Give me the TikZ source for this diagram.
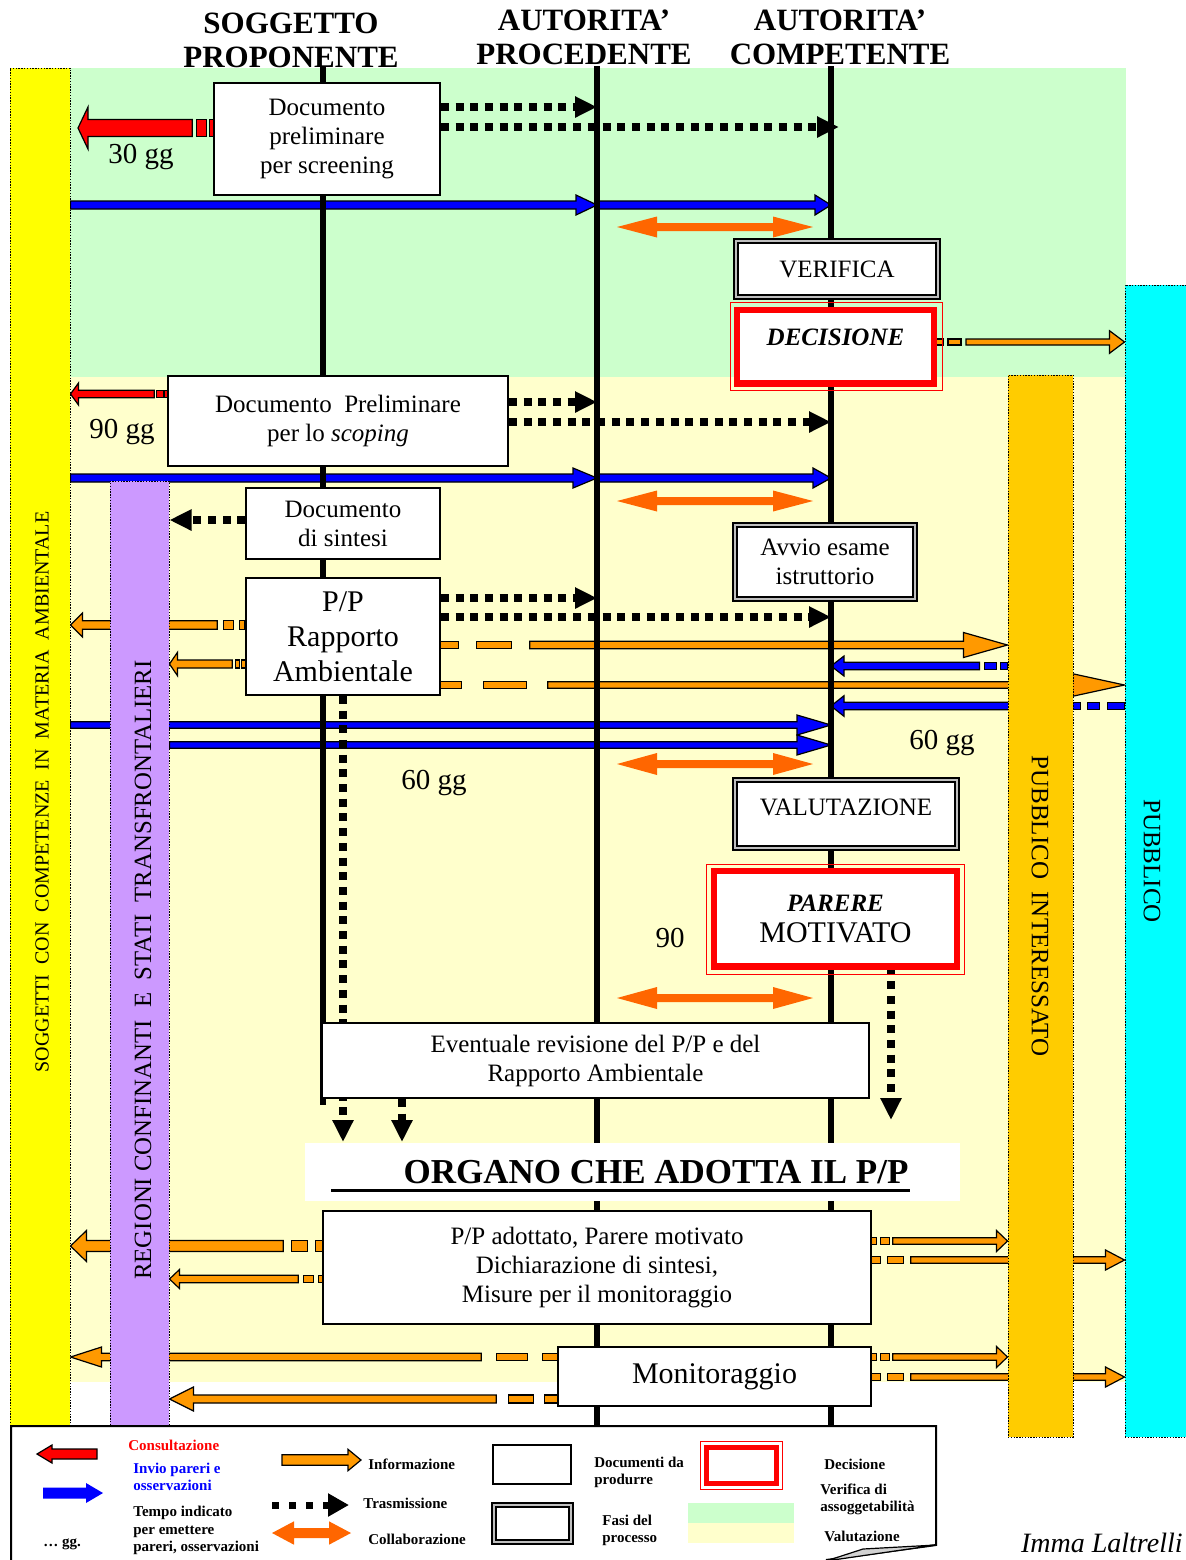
\documentclass[tikz,border=0pt]{standalone}
\usepackage{fontspec}
\setmainfont{Liberation Serif}
\usetikzlibrary{arrows.meta,calc}
\definecolor{bggreen}{HTML}{CCFFCC}
\definecolor{bgyellow}{HTML}{FFFFCC}
\definecolor{bandyellow}{HTML}{FFFF00}
\definecolor{bandpurple}{HTML}{CC99FF}
\definecolor{bandorange}{HTML}{FFCC00}
\definecolor{bandcyan}{HTML}{00FFFF}
\definecolor{infoorange}{HTML}{FF9900}
\definecolor{collab}{HTML}{FF6600}
\pgfdeclarelayer{back}\pgfdeclarelayer{mid}\pgfdeclarelayer{front}
\pgfsetlayers{back,mid,main,front}
% block arrow: opts; tail; tip; half shaft; half head; head length; shaft start offset (px)
\newcommand\barrow[7][]{\path[#1] let \p1=(#2),\p2=(#3),\n1={ifthenelse(\x2>\x1,0.5,-0.5)} in
 ({\x1+(\n1)*#7*1pt},{\y1+#4*0.5pt}) -- ({\x2-(\n1)*#6*1pt},{\y1+#4*0.5pt}) -- ({\x2-(\n1)*#6*1pt},{\y1+#5*0.5pt}) -- (\x2,\y1) -- ({\x2-(\n1)*#6*1pt},{\y1-#5*0.5pt}) -- ({\x2-(\n1)*#6*1pt},{\y1-#4*0.5pt}) -- ({\x1+(\n1)*#7*1pt},{\y1-#4*0.5pt}) -- cycle;}
% dash pieces near the tail: opts; tail; tip; half shaft; list a/b
\newcommand\segs[5][]{\foreach \ua/\ub in {#5}{\path[#1] let \p1=(#2),\p2=(#3),\n1={ifthenelse(\x2>\x1,0.5,-0.5)} in
 ({\x1+(\n1)*\ua*1pt},{\y1+#4*0.5pt}) rectangle ({\x1+(\n1)*\ub*1pt},{\y1-#4*0.5pt});}}
% double block arrow: opts; end1; end2; half shaft; half head; head length
\newcommand\dbarrow[6][]{\path[#1] let \p1=(#2),\p2=(#3),\n1={ifthenelse(\x2>\x1,0.5,-0.5)} in
 (\x1,\y1) -- ({\x1+(\n1)*#6*1pt},{\y1+#5*0.5pt}) -- ({\x1+(\n1)*#6*1pt},{\y1+#4*0.5pt}) -- ({\x2-(\n1)*#6*1pt},{\y1+#4*0.5pt}) -- ({\x2-(\n1)*#6*1pt},{\y1+#5*0.5pt}) -- (\x2,\y1) -- ({\x2-(\n1)*#6*1pt},{\y1-#5*0.5pt}) -- ({\x2-(\n1)*#6*1pt},{\y1-#4*0.5pt}) -- ({\x1+(\n1)*#6*1pt},{\y1-#4*0.5pt}) -- ({\x1+(\n1)*#6*1pt},{\y1-#5*0.5pt}) -- cycle;}
\tikzset{
 band/.style={draw=black, line width=0.5pt, dash pattern=on 0.7pt off 0.7pt, inner sep=0pt},
 docbox/.style={draw=black, line width=0.8pt, fill=white, align=center, inner sep=0pt, font=\fontsize{12.5}{14.5}\selectfont},
 phasebox/.style={draw=black, line width=1.1pt, double=gray!50, double distance=0.8pt, fill=white, align=center, inner sep=0pt, font=\fontsize{12.5}{14.5}\selectfont},
 decbox/.style={draw=red, line width=3.3pt, fill=white, align=center, inner sep=0pt, outer sep=0pt, font=\fontsize{12.5}{14.5}\selectfont},
 decframe/.style={draw=red, line width=0.5pt},
 hdr/.style={align=center, inner sep=0pt, font=\fontsize{15.5}{17}\selectfont\bfseries},
 days/.style={inner sep=0pt, font=\fontsize{14.5}{16}\selectfont},
 legtext/.style={anchor=west, align=left, inner sep=0pt, font=\fontsize{7.5}{8.6}\selectfont\bfseries},
 redarr/.style={fill=red, draw=black, line width=0.6pt},
 bluearr/.style={fill=blue, draw=black, line width=0.6pt},
 infoarr/.style={fill=infoorange, draw=black, line width=0.6pt},
 collabarr/.style={fill=collab},
 trans/.style={line width=4pt, dash pattern=on 4pt off 3.35pt, -{Triangle[length=11pt,width=10pt]}},
 lifeline/.style={line width=3pt},
}
\begin{document}
\begin{tikzpicture}[x=0.5pt,y=-0.5pt]
\useasboundingbox (0,0) rectangle (1186,1560);
% ---------- backgrounds
\begin{pgfonlayer}{back}
 \fill[bggreen] (70,68) rectangle (1126,377);
 \fill[bgyellow] (70,377) rectangle (1126,1382);
\end{pgfonlayer}
% ---------- headers
\node[hdr] (h1) at (291,40.5) {SOGGETTO\\PROPONENTE};
\node[hdr] (h2) at (584,37.5) {AUTORITA'\\PROCEDENTE};
\node[hdr] (h3) at (840,37.5) {AUTORITA'\\COMPETENTE};
% ---------- boxes
\node[docbox, minimum width=113pt, minimum height=56pt] (b1) at (327,139) {Documento\\preliminare\\per screening};
\node[phasebox, minimum width=101pt, minimum height=28pt] (verif) at (837,269) {VERIFICA};
\node[decbox, minimum width=98.5pt, minimum height=36.75pt, text height=8.3pt, text depth=9.8pt] (decis) at (835.5,346.75) {\textbf{\textit{DECISIONE}}};
\draw[decframe] ([shift={(-7,-8)}]decis.north west) rectangle ([shift={(8,6.5)}]decis.south east);
\node[docbox, minimum width=170pt, minimum height=45pt] (b4) at (338,421) {Documento\ \ Preliminare\\per lo \textit{scoping}};
\node[docbox, minimum width=97pt, minimum height=35.5pt] (b5) at (343,523.5) {Documento\\di sintesi};
\node[phasebox, minimum width=90pt, minimum height=37pt] (avvio) at (825,562) {Avvio esame\\istruttorio};
\node[docbox, minimum width=97pt, minimum height=58.5pt, font=\fontsize{15}{17.5}\selectfont] (pp) at (343,636.5) {P/P\\Rapporto\\Ambientale};
\node[phasebox, minimum width=111pt, minimum height=34pt, text height=8.3pt, text depth=7pt] (valut) at (846,814) {VALUTAZIONE};
\node[decbox, minimum width=121.5pt, minimum height=47.75pt] (parere) at (835.5,918.75) {\textbf{\textit{PARERE}}\\[1pt]{\fontsize{15}{17}\selectfont MOTIVATO}};
\draw[decframe] ([shift={(-8,-7)}]parere.north west) rectangle ([shift={(7,7.5)}]parere.south east);
\node[docbox, minimum width=273.5pt, minimum height=37.5pt] (evt) at (595.5,1060.5) {Eventuale revisione del P/P e del\\Rapporto Ambientale};
\node[fill=white, minimum width=327.5pt, minimum height=29pt, inner sep=0pt] (organo) at (632.5,1172) {};
\node[inner sep=0pt, font=\fontsize{17.5}{19}\selectfont\bfseries] (organotxt) at (656,1172) {ORGANO CHE ADOTTA IL P/P};
\draw[line width=1.5pt] (331,1190) -- (910,1190);
\node[docbox, minimum width=274pt, minimum height=56.5pt] (adopt) at (597,1267.5) {P/P adottato, Parere motivato\\Dichiarazione di sintesi,\\Misure per il monitoraggio};
\node[docbox, minimum width=156.5pt, minimum height=29.5pt, font=\fontsize{15}{17}\selectfont] (monit) at (714.5,1376.5) {Monitoraggio};
% ---------- day labels
\node[days] (d30) at (141,157) {30 gg};
\node[days] (d90) at (122,432) {90 gg};
\node[days] (d60a) at (434,783) {60 gg};
\node[days] (d60b) at (942,743) {60 gg};
\node[days] (d90b) at (670,938) {90};
% ---------- bands
\begin{pgfonlayer}{front}
 \node[band, fill=bandyellow, minimum width=30pt, minimum height=678.5pt] (yband) at (40,746.5) {};
 \node[band, fill=bandpurple, minimum width=29.5pt, minimum height=472pt] (pband) at (139.5,953) {};
 \node[band, fill=bandorange, minimum width=32.5pt, minimum height=531pt] (oband) at (1040.5,906) {};
 \node[band, fill=bandcyan, minimum width=30.5pt, minimum height=576pt] (cband) at (1155.5,861) {};
 \node[rotate=90, inner sep=0pt, font=\fontsize{10}{12}\selectfont] (ytxt) at (42,792) {SOGGETTI\ \ CON\ \ COMPETENZE\ \ IN\ \ MATERIA\ \ AMBIENTALE};
 \node[rotate=90, inner sep=0pt, font=\fontsize{12.4}{14}\selectfont] (ptxt) at (143,970) {REGIONI CONFINANTI\ \ E\ \ STATI\ \ TRANSFRONTALIERI};
 \node[rotate=-90, inner sep=0pt, font=\fontsize{12.5}{14}\selectfont] (otxt) at (1040,906) {PUBBLICO\ \ INTERESSATO};
 \node[rotate=-90, inner sep=0pt, font=\fontsize{12.5}{14}\selectfont] (ctxt) at (1152,861) {PUBBLICO};
\end{pgfonlayer}
% ---------- connectors
\begin{pgfonlayer}{mid}
 \coordinate (L1t) at (323,66); \coordinate (L1b) at (323,1105);
 \coordinate (L2t) at (597,66); \coordinate (L2b) at (597,1427);
 \coordinate (L3t) at (831,66); \coordinate (L3b) at (831,1427);
 \coordinate (tR1) at (78,128);
 \coordinate (tT2) at (839,127);
 \coordinate (cA1) at (617,227); \coordinate (cA2) at (813,227);
 \coordinate (cB1) at (617,501); \coordinate (cB2) at (813,501);
 \coordinate (cC1) at (617,764); \coordinate (cC2) at (813,764);
 \coordinate (cD1) at (617,998); \coordinate (cD2) at (813,998);
 \coordinate (tV1) at (343,1142); \coordinate (tV2) at (402,1142); \coordinate (tV3) at (891,1120);
 % top (screening)
 \barrow[redarr]{b1.west |- 0,128}{tR1}{8.5}{21}{10}{21}
 \segs[redarr]{b1.west |- 0,128}{tR1}{8.5}{0/4,7/17}
 \draw[trans] (b1.east |- 0,107) -- (L2t |- 0,107);
 \draw[trans] (b1.east |- 0,127) -- (tT2);
 \barrow[bluearr]{yband.east |- 0,205}{L2t |- 0,205}{4}{10}{21}{0}
 \barrow[bluearr]{L2t |- 0,205}{L3t |- 0,205}{4}{10}{16}{0}
 \dbarrow[collabarr]{cA1}{cA2}{4}{10.5}{40}
 \barrow[infoarr]{decis.east |- 0,342}{cband.west |- 0,342}{3}{11.3}{15}{32}
 \segs[infoarr]{decis.east |- 0,342}{cband.west |- 0,342}{3}{2/9,14/27}
 % scoping
 \barrow[redarr]{b4.west |- 0,394}{yband.east |- 0,394}{3.8}{11}{8}{13}
 \segs[redarr]{b4.west |- 0,394}{yband.east |- 0,394}{3.8}{0/3,4/11}
 \draw[trans] (b4.east |- 0,402) -- (L2t |- 0,402);
 \draw[trans] (b4.east |- 0,422) -- (L3t |- 0,422);
 \barrow[bluearr]{yband.east |- 0,478}{L2t |- 0,478}{4}{10}{24}{0}
 \barrow[bluearr]{L2t |- 0,478}{L3t |- 0,478}{4}{10}{18}{0}
 \dbarrow[collabarr]{cB1}{cB2}{4}{10.5}{40}
 \draw[trans] (b5.west |- 0,520) -- (pband.east |- 0,520);
 \draw[trans] (pp.east |- 0,598) -- (L2t |- 0,598);
 \draw[trans] (pp.east |- 0,617) -- (L3t |- 0,617);
 \barrow[infoarr]{pp.west |- 0,625}{yband.east |- 0,625}{4.3}{12}{12}{28}
 \segs[infoarr]{pp.west |- 0,625}{yband.east |- 0,625}{4.3}{1/6,12/22}
 \barrow[infoarr]{pp.west |- 0,664}{pband.east |- 0,664}{4}{11.7}{8}{13}
 \segs[infoarr]{pp.west |- 0,664}{pband.east |- 0,664}{4}{0/4,6/10}
 \barrow[infoarr]{pp.east |- 0,645}{oband.west |- 0,645}{3.7}{12.5}{44}{89}
 \segs[infoarr]{pp.east |- 0,645}{oband.west |- 0,645}{3.7}{0/18,36/71}
 \barrow[infoarr]{pp.east |- 0,685}{cband.west |- 0,685}{3.3}{11.3}{52}{107}
 \segs[infoarr]{pp.east |- 0,685}{cband.west |- 0,685}{3.3}{0/21,43/86}
 \barrow[bluearr]{oband.west |- 0,666}{L3t |- 0,666}{3.7}{10}{13}{28}
 \segs[bluearr]{oband.west |- 0,666}{L3t |- 0,666}{3.7}{0/7,11/23}
 \barrow[bluearr]{cband.west |- 0,706}{L3t |- 0,706}{3.7}{10.3}{13}{60}
 \segs[bluearr]{cband.west |- 0,706}{L3t |- 0,706}{3.7}{0/17,25/37,44/52}
 \barrow[bluearr]{yband.east |- 0,725}{L3t |- 0,725}{3.3}{10}{34}{0}
 \barrow[bluearr]{pband.east |- 0,745}{L3t |- 0,745}{3.3}{10}{34}{0}
 \dbarrow[collabarr]{cC1}{cC2}{4}{11}{40}
 \draw[trans] (pp.south) -- (tV1);
 \draw[trans] (evt.south -| tV2) -- (tV2);
 \draw[trans] (parere.south -| tV3) -- (tV3);
 \dbarrow[collabarr]{cD1}{cD2}{4}{11}{40}
 % adoption and monitoring
 \barrow[infoarr]{adopt.west |- 0,1246}{yband.east |- 0,1246}{5.5}{15.5}{16}{39}
 \segs[infoarr]{adopt.west |- 0,1246}{yband.east |- 0,1246}{5.5}{0/7,15/31}
 \barrow[infoarr]{adopt.west |- 0,1279}{pband.east |- 0,1279}{3.7}{9.5}{10}{24}
 \segs[infoarr]{adopt.west |- 0,1279}{pband.east |- 0,1279}{3.7}{0/4,9/19}
 \barrow[infoarr]{adopt.east |- 0,1241}{oband.west |- 0,1241}{3.3}{10.5}{11}{21}
 \segs[infoarr]{adopt.east |- 0,1241}{oband.west |- 0,1241}{3.3}{0/5,9/18}
 \barrow[infoarr]{adopt.east |- 0,1260}{cband.west |- 0,1260}{3.3}{10}{19}{39}
 \segs[infoarr]{adopt.east |- 0,1260}{cband.west |- 0,1260}{3.3}{0/9,16/32}
 \barrow[infoarr]{monit.west |- 0,1357}{yband.east |- 0,1357}{3.7}{10}{31}{76}
 \segs[infoarr]{monit.west |- 0,1357}{yband.east |- 0,1357}{3.7}{0/15,30/61}
 \barrow[infoarr]{monit.west |- 0,1399}{pband.east |- 0,1399}{4}{12}{24}{61}
 \segs[infoarr]{monit.west |- 0,1399}{pband.east |- 0,1399}{4}{0/13,24/49}
 \barrow[infoarr]{monit.east |- 0,1357}{oband.west |- 0,1357}{3.3}{10.5}{11}{21}
 \segs[infoarr]{monit.east |- 0,1357}{oband.west |- 0,1357}{3.3}{0/5,9/18}
 \barrow[infoarr]{monit.east |- 0,1377}{cband.west |- 0,1377}{3.3}{10}{19}{39}
 \segs[infoarr]{monit.east |- 0,1377}{cband.west |- 0,1377}{3.3}{0/9,16/32}
 % lifelines
 \draw[lifeline] (L1t) -- (L1b);
 \draw[lifeline] (L2t) -- (L2b);
 \draw[lifeline] (L3t) -- (L3b);
\end{pgfonlayer}
% ---------- legend
\begin{pgfonlayer}{front}
 \fill[white] (11,1426) rectangle (936,1580);
 \draw[line width=1pt] (11,1580) -- (11,1426) -- (936,1426) -- (936,1545) -- (826,1560);
 \filldraw[fill=gray!35, line width=0.6pt] (936,1545) -- (826,1561) -- (863,1549) -- cycle;
 \coordinate (lgR1) at (97,1454); \coordinate (lgR2) at (37,1454);
 \barrow[redarr]{lgR1}{lgR2}{5}{9}{15}{0}
 \coordinate (lgB1) at (43,1493); \coordinate (lgB2) at (103,1493);
 \barrow[fill=blue]{lgB1}{lgB2}{5.5}{10}{17}{0}
 \coordinate (lgI1) at (282,1460); \coordinate (lgI2) at (361,1460);
 \barrow[infoarr]{lgI1}{lgI2}{5.3}{10.7}{13}{0}
 \coordinate (lgT1) at (272,1505); \coordinate (lgT2) at (349,1505);
 \draw[line width=3.5pt, dash pattern=on 3.5pt off 5pt, -{Triangle[length=10.5pt,width=11pt]}] (lgT1) -- (lgT2);
 \coordinate (lgC1) at (272,1533); \coordinate (lgC2) at (351,1533);
 \dbarrow[collabarr]{lgC1}{lgC2}{5}{11.7}{22}
 \node[legtext, text=red] (lg1) at (128,1445) {Consultazione};
 \node[legtext, text=blue] (lg2) at (133,1476.5) {Invio pareri e\\osservazioni};
 \node[legtext] (lg3) at (133,1530.5) {Tempo indicato\\per emettere\\pareri, osservazioni};
 \node[legtext] (lg4) at (43,1544) {… gg.};
 \node[legtext] (lg5) at (368,1464) {Informazione};
 \node[legtext] (lg6) at (363,1503) {Trasmissione};
 \node[legtext] (lg7) at (368,1539) {Collaborazione};
 \node[draw=black, line width=0.8pt, fill=white, minimum width=39pt, minimum height=19.5pt, inner sep=0pt] (lgdoc) at (532,1464.5) {};
 \node[legtext] (lg8) at (594,1472.5) {Documenti da\\produrre};
 \node[phasebox, minimum width=38.5pt, minimum height=18.5pt] (lgphase) at (532.5,1523.5) {};
 \node[legtext] (lg9) at (602,1530) {Fasi del\\processo};
 \node[decbox, line width=2.5pt, minimum width=35pt, minimum height=18pt] (lgdec) at (741,1465) {};
 \draw[decframe] ([shift={(-6,-6)}]lgdec.north west) rectangle ([shift={(6,6)}]lgdec.south east);
 \node[legtext] (lg10) at (824,1464) {Decisione};
 \fill[bggreen] (688,1503) rectangle (794,1523);
 \fill[bgyellow] (688,1523) rectangle (794,1543);
 \node[legtext] (lg11) at (820,1499) {Verifica di\\assoggetabilità};
 \node[legtext] (lg12) at (824,1536) {Valutazione};
\end{pgfonlayer}
\node[anchor=east, inner sep=0pt, font=\fontsize{14}{16}\selectfont\itshape] (author) at (1183,1543) {Imma Laltrelli};
\end{tikzpicture}
\end{document}
